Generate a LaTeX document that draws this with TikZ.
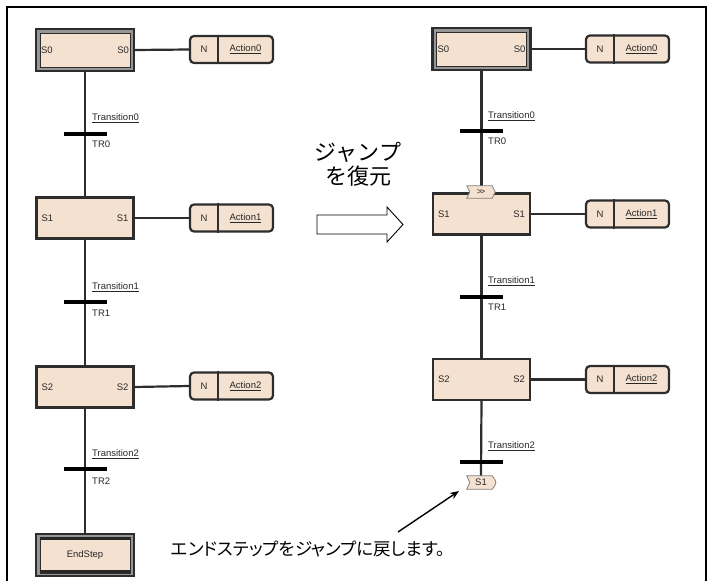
\documentclass[tikz,border=0pt]{standalone}
\usepackage{fontspec}
\setmainfont{Liberation Sans}
\newfontfamily\jpfont{Noto Sans CJK JP}
\newfontfamily\jppfont[RawFeature=+palt]{Noto Sans CJK JP}
\usetikzlibrary{arrows.meta}
\definecolor{peach}{RGB}{245,225,208}
\definecolor{linec}{RGB}{45,45,45}
\definecolor{bandc}{RGB}{150,150,150}
\definecolor{txt}{RGB}{40,40,40}
\begin{document}
\begin{tikzpicture}[x=1pt,y=-1pt,
  stepbox/.style={draw=linec, line width=2.2pt, fill=peach, minimum width=97pt, minimum height=41pt, inner sep=0pt},
  initbox/.style={draw=linec, line width=2.4pt, fill=bandc, minimum width=98pt, minimum height=42pt, inner sep=0pt},
  initinner/.style={draw=linec, line width=1pt, fill=peach, minimum width=90pt, minimum height=34pt, inner sep=0pt},
  actbox/.style={draw=linec, line width=2.2pt, fill=peach, rounded corners=4pt, minimum width=83pt, minimum height=27pt, inner sep=0pt},
  lbl/.style={font=\fontsize{9.5}{10}\selectfont, text=txt, inner sep=0pt},
  trbar/.style={fill=black, minimum width=43pt, minimum height=4pt, inner sep=0pt},
  link/.style={draw=linec, line width=2.2pt},
  tag/.style={draw=gray, line width=0.8pt, fill=peach},
  endbar/.style={fill=black!85, minimum width=90pt, minimum height=3.5pt, inner sep=0pt},
]
\useasboundingbox (0,0) rectangle (710,581);
\draw[line width=2pt] (7,581) -- (7,7) -- (706,7) -- (706,581);

% ---------------- left chart ----------------
\node[initbox] (l0) at (85,50) {};
\node[initinner] (l0i) at (l0) {};
\node[stepbox] (l1) at (85,218) {};
\node[stepbox] (l2) at (85,387) {};
\node[initbox] (le) at (85,555) {};
\node[initinner, minimum height=36pt] (lei) at (le) {};
\node[endbar, anchor=north] (lebt) at (lei.north) {};
\node[endbar, anchor=south] (lebb) at (lei.south) {};
\node[lbl] (let) at (le) {EndStep};

\draw[link] (l0.south) -- (l1.north);
\draw[link] (l1.south) -- (l2.north);
\draw[link] (l2.south) -- (le.north);

\node[trbar] (lt0) at (85,134) {};
\node[trbar] (lt1) at (85,302) {};
\node[trbar] (lt2) at (85,469) {};

\node[lbl, anchor=west] (l0a) at ([xshift=6pt]l0.west) {S0};
\node[lbl, anchor=east] (l0b) at ([xshift=-6pt]l0.east) {S0};
\node[lbl, anchor=west] (l1a) at ([xshift=6pt]l1.west) {S1};
\node[lbl, anchor=east] (l1b) at ([xshift=-6pt]l1.east) {S1};
\node[lbl, anchor=west] (l2a) at ([xshift=6pt]l2.west) {S2};
\node[lbl, anchor=east] (l2b) at ([xshift=-6pt]l2.east) {S2};

\node[lbl, anchor=west] (ltl0) at (92,118) {\underline{Transition0}};
\node[lbl, anchor=west] (ltr0) at (92,144) {TR0};
\node[lbl, anchor=west] (ltl1) at (92,287) {\underline{Transition1}};
\node[lbl, anchor=west] (ltr1) at (92,313) {TR1};
\node[lbl, anchor=west] (ltl2) at (92,454) {\underline{Transition2}};
\node[lbl, anchor=west] (ltr2) at (92,481) {TR2};

\foreach \i/\y in {0/49.5,1/218,2/386}{
  \node[actbox] (la\i) at (231.5,\y) {};
  \draw[link] ([xshift=-13.5pt]la\i.north) -- ([xshift=-13.5pt]la\i.south);
  \node[lbl] (la\i n) at ([xshift=-27.5pt]la\i.center) {N};
  \node[lbl] (la\i t) at ([xshift=14pt]la\i.center) {\underline{Action\i}};
}
\draw[link] (l0.east) -- (la0.west);
\draw[link] (l1.east) -- (la1.west);
\draw[link] (l2.east) -- (la2.west);

% ---------------- right chart ----------------
\node[initbox] (r0) at (481.5,49) {};
\node[initinner] (r0i) at (r0) {};
\node[stepbox] (r1) at (481.5,214) {};
\node[stepbox] (r2) at (481.5,379.5) {};
\node[minimum width=28pt, minimum height=13pt, inner sep=0pt] (jt) at (481,482.5) {};

\draw[link] (r0.south) -- (r1.north);
\draw[link] (r1.south) -- (r2.north);
\draw[link] (r2.south) -- (jt.north);

\node[trbar] (rt0) at (481,131) {};
\node[trbar] (rt1) at (481,297) {};
\node[trbar] (rt2) at (481,462) {};

\node[minimum width=28pt, minimum height=12pt, inner sep=0pt] (jm) at (481,192) {};
\path[tag] (jm.north west) -- ([xshift=-3pt]jm.north east) -- (jm.east) -- ([xshift=-3pt]jm.south east) -- (jm.south west) -- ([xshift=3pt]jm.west) -- cycle;
\node[lbl, font=\fontsize{8.5}{9}\selectfont] (jmt) at (jm) {{>}\kern-1.5pt{>}};

\path[tag] (jt.north west) -- ([xshift=-3pt]jt.north east) .. controls ([xshift=2pt]jt.east) .. ([xshift=-3pt]jt.south east) -- (jt.south west) -- ([xshift=3pt]jt.west) -- cycle;
\node[lbl] (jtt) at (jt) {S1};

\node[lbl, anchor=west] (r0a) at ([xshift=6pt]r0.west) {S0};
\node[lbl, anchor=east] (r0b) at ([xshift=-6pt]r0.east) {S0};
\node[lbl, anchor=west] (r1a) at ([xshift=6pt]r1.west) {S1};
\node[lbl, anchor=east] (r1b) at ([xshift=-6pt]r1.east) {S1};
\node[lbl, anchor=west] (r2a) at ([xshift=6pt]r2.west) {S2};
\node[lbl, anchor=east] (r2b) at ([xshift=-6pt]r2.east) {S2};

\node[lbl, anchor=west] (rtl0) at (488,116) {\underline{Transition0}};
\node[lbl, anchor=west] (rtr0) at (488,141) {TR0};
\node[lbl, anchor=west] (rtl1) at (488,281) {\underline{Transition1}};
\node[lbl, anchor=west] (rtr1) at (488,307) {TR1};
\node[lbl, anchor=west] (rtl2) at (488,446) {\underline{Transition2}};

\foreach \i/\y in {0/49,1/214,2/379.5}{
  \node[actbox] (ra\i) at (627.5,\y) {};
  \draw[link] ([xshift=-13.5pt]ra\i.north) -- ([xshift=-13.5pt]ra\i.south);
  \node[lbl] (ra\i n) at ([xshift=-27.5pt]ra\i.center) {N};
  \node[lbl] (ra\i t) at ([xshift=14pt]ra\i.center) {\underline{Action\i}};
}
\draw[link] (r0.east) -- (ra0.west);
\draw[link] (r1.east) -- (ra1.west);
\draw[link] (r2.east) -- (ra2.west);

% ---------------- middle ----------------
\node[font=\jpfont\fontsize{22}{24}\selectfont, align=center, inner sep=0pt] (mid) at (358,164) {ジャンプ\\を復元};
\draw[line width=0.9pt, fill=white] (317,215) -- (387,215) -- (387,207) -- (403,224.5) -- (387,242) -- (387,234) -- (317,234) -- cycle;

\node[font=\jppfont\fontsize{17.5}{20}\selectfont, anchor=west, inner sep=0pt] (note) at (171,549) {エンドステップをジャンプに戻します。};
\coordinate (atail) at (398,532);
\coordinate (ahead) at (459,491);
\draw[-{Stealth[length=9pt,width=7pt]}, line width=1.4pt] (atail) -- (ahead);
\end{tikzpicture}
\end{document}
